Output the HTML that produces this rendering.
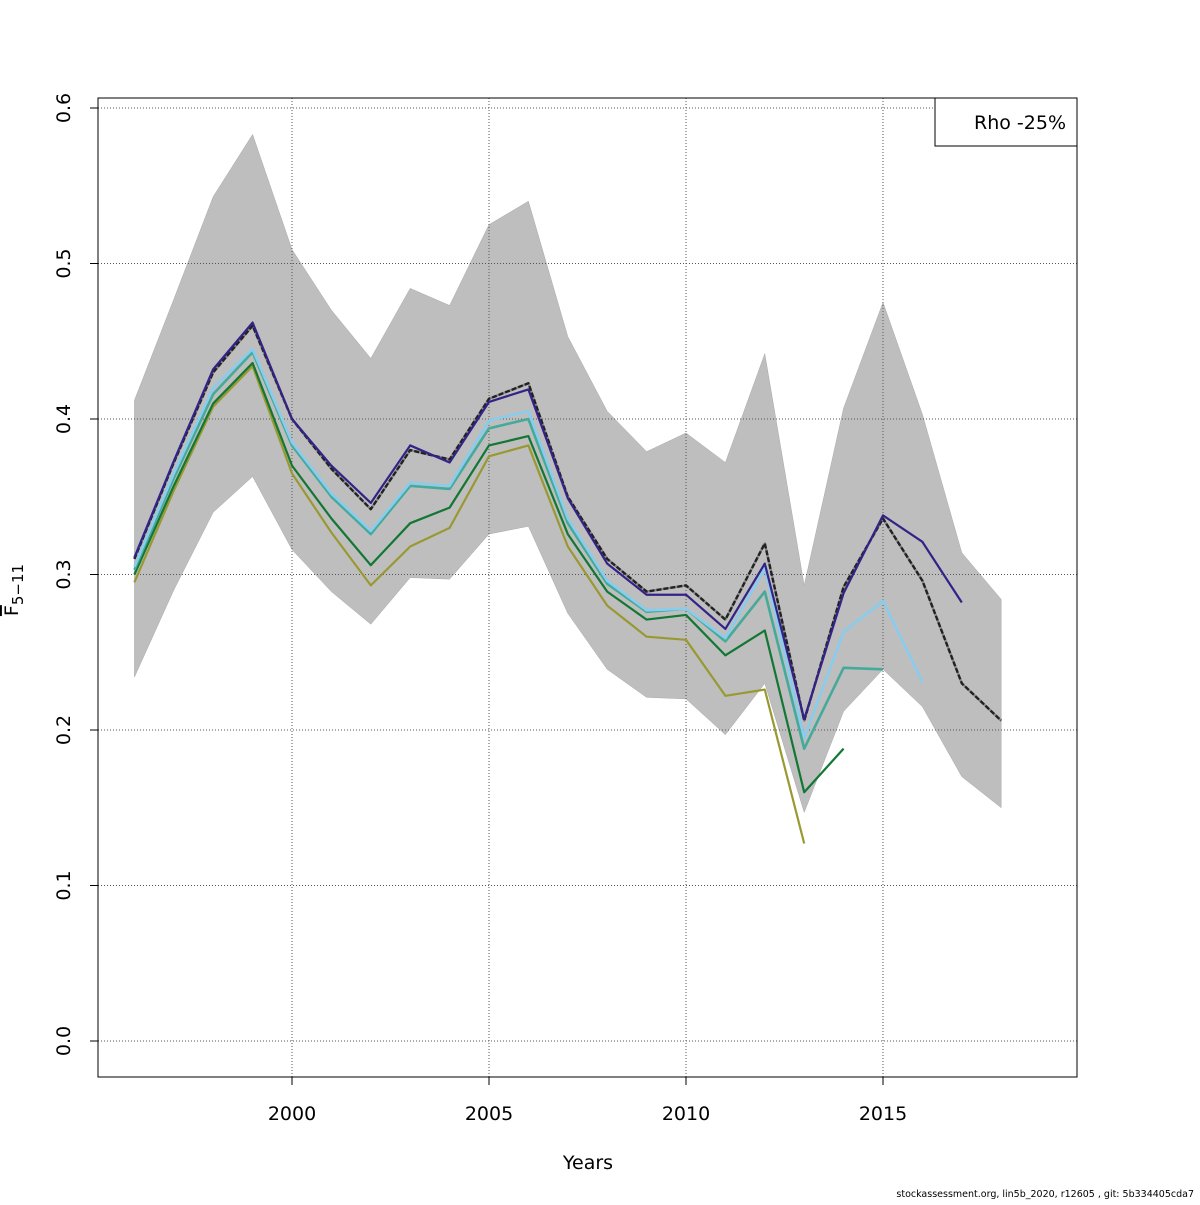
<!DOCTYPE html>
<html><head><meta charset="utf-8"><style>
body{margin:0;background:#fff}
svg{font-family:"DejaVu Sans","Liberation Sans",sans-serif}
</style></head><body>
<svg id="c" width="1200" height="1200" xmlns="http://www.w3.org/2000/svg"></svg>
<script>
const years=[1996,1997,1998,1999,2000,2001,2002,2003,2004,2005,2006,2007,2008,2009,2010,2011,2012,2013,2014,2015,2016,2017,2018];
const upper=[0.412,0.477,0.543,0.583,0.509,0.470,0.439,0.484,0.473,0.525,0.540,0.453,0.405,0.379,0.391,0.372,0.442,0.293,0.407,0.475,0.403,0.314,0.284];
const lower=[0.234,0.290,0.340,0.363,0.316,0.289,0.268,0.298,0.297,0.326,0.331,0.275,0.239,0.221,0.220,0.197,0.230,0.147,0.212,0.239,0.215,0.170,0.150];
const base=[0.310,0.372,0.430,0.460,0.400,0.368,0.342,0.380,0.374,0.413,0.423,0.350,0.310,0.289,0.293,0.271,0.320,0.206,0.292,0.336,0.296,0.230,0.206];
const peel1=[0.311,0.373,0.432,0.462,0.400,0.370,0.346,0.383,0.372,0.411,0.419,0.349,0.307,0.287,0.287,0.265,0.307,0.207,0.288,0.338,0.321,0.282];
const peel2=[0.305,0.365,0.420,0.445,0.385,0.352,0.328,0.359,0.357,0.399,0.405,0.336,0.296,0.277,0.278,0.259,0.304,0.195,0.263,0.283,0.231];
const peel3=[0.303,0.362,0.416,0.443,0.383,0.350,0.326,0.357,0.355,0.394,0.400,0.333,0.294,0.276,0.278,0.257,0.289,0.188,0.240,0.239];
const peel4=[0.300,0.357,0.410,0.436,0.370,0.336,0.306,0.333,0.343,0.383,0.389,0.326,0.289,0.271,0.274,0.248,0.264,0.160,0.188];
const peel5=[0.295,0.354,0.408,0.434,0.365,0.327,0.293,0.318,0.330,0.376,0.383,0.318,0.280,0.260,0.258,0.222,0.226,0.127];
const xTicks=[2000,2005,2010,2015];
const yTicks=[0,0.1,0.2,0.3,0.4,0.5,0.6];

const X=y=>292+(y-2000)*39.4;
const Y=v=>1041-v*1555;
const svg=document.getElementById('c');
const NS='http://www.w3.org/2000/svg';
function mk(t,a,p){const e=document.createElementNS(NS,t);for(const k in a)e.setAttribute(k,a[k]);(p||svg).appendChild(e);return e;}
const L=98,R=1077,T=98,B=1077;

let pts=years.map((y,i)=>X(y)+','+Y(upper[i]));
for(let i=years.length-1;i>=0;i--)pts.push(X(years[i])+','+Y(lower[i]));
const band=mk('polygon',{points:pts.join(' '),fill:'#bebebe',stroke:'#aaa','stroke-width':0.5});



xTicks.forEach(t=>{const g=mk('line',{x1:X(t),x2:X(t),y1:T,y2:B,stroke:'#555','stroke-dasharray':'1,2','stroke-width':1});

});
yTicks.forEach(t=>{const g=mk('line',{x1:L,x2:R,y1:Y(t),y2:Y(t),stroke:'#555','stroke-dasharray':'1,2','stroke-width':1});

});

function line(vals,color,name,w,dash){
  const p=vals.map((v,i)=>X(years[i])+','+Y(v)).join(' ');
  const e=mk('polyline',{points:p,fill:'none',stroke:color,'stroke-width':w||2.2,'stroke-linejoin':'round'});
  if(dash)e.setAttribute('stroke-dasharray',dash);
  
  
}
line(peel5,'#999933','peel-2013-line');
line(peel4,'#117733','peel-2014-line');
line(peel3,'#44aa99','peel-2015-line',2.6);
line(peel2,'#88ccee','peel-2016-line',2.6);
line(base,'#888888','base-line-under',2.4);
line(base,'#222222','base-line',2.4,'5,2');
line(peel1,'#332288','peel-2017-line');

const box=mk('rect',{x:L,y:T,width:R-L,height:B-T,fill:'none',stroke:'#000','stroke-width':1});



xTicks.forEach(t=>{mk('line',{x1:X(t),x2:X(t),y1:B,y2:B+8,stroke:'#000'});
const tx=mk('text',{x:X(t),y:1120,'text-anchor':'middle','font-size':19});tx.textContent=t;

});
yTicks.forEach(t=>{mk('line',{x1:L,x2:L-8,y1:Y(t),y2:Y(t),stroke:'#000'});
const tx=mk('text',{x:70,y:Y(t),'text-anchor':'middle','font-size':19,transform:`rotate(-90 70 ${Y(t)})`});tx.textContent=t.toFixed(1);

});
</script>
<svg width="1200" height="1200" style="position:absolute;left:0;top:0">
<text x="588" y="1169" text-anchor="middle" font-size="19" font-family="DejaVu Sans,sans-serif">Years</text>
<g transform="rotate(-90 18 590)">
<text x="18" y="590" text-anchor="middle" font-size="19" font-family="DejaVu Sans,sans-serif"><tspan text-decoration="overline">F</tspan><tspan font-size="15" dy="5">5−11</tspan></text>
</g>
<g>
<rect x="935" y="98" width="142" height="48" fill="#fff" stroke="#000"/>
<text x="1020" y="129" text-anchor="middle" font-size="19" font-family="DejaVu Sans,sans-serif">Rho -25%</text>
</g>
<text x="1194" y="1197" text-anchor="end" font-size="9.5" font-family="DejaVu Sans,sans-serif">stockassessment.org, lin5b_2020, r12605 , git: 5b334405cda7</text>
</svg>
</body></html>
